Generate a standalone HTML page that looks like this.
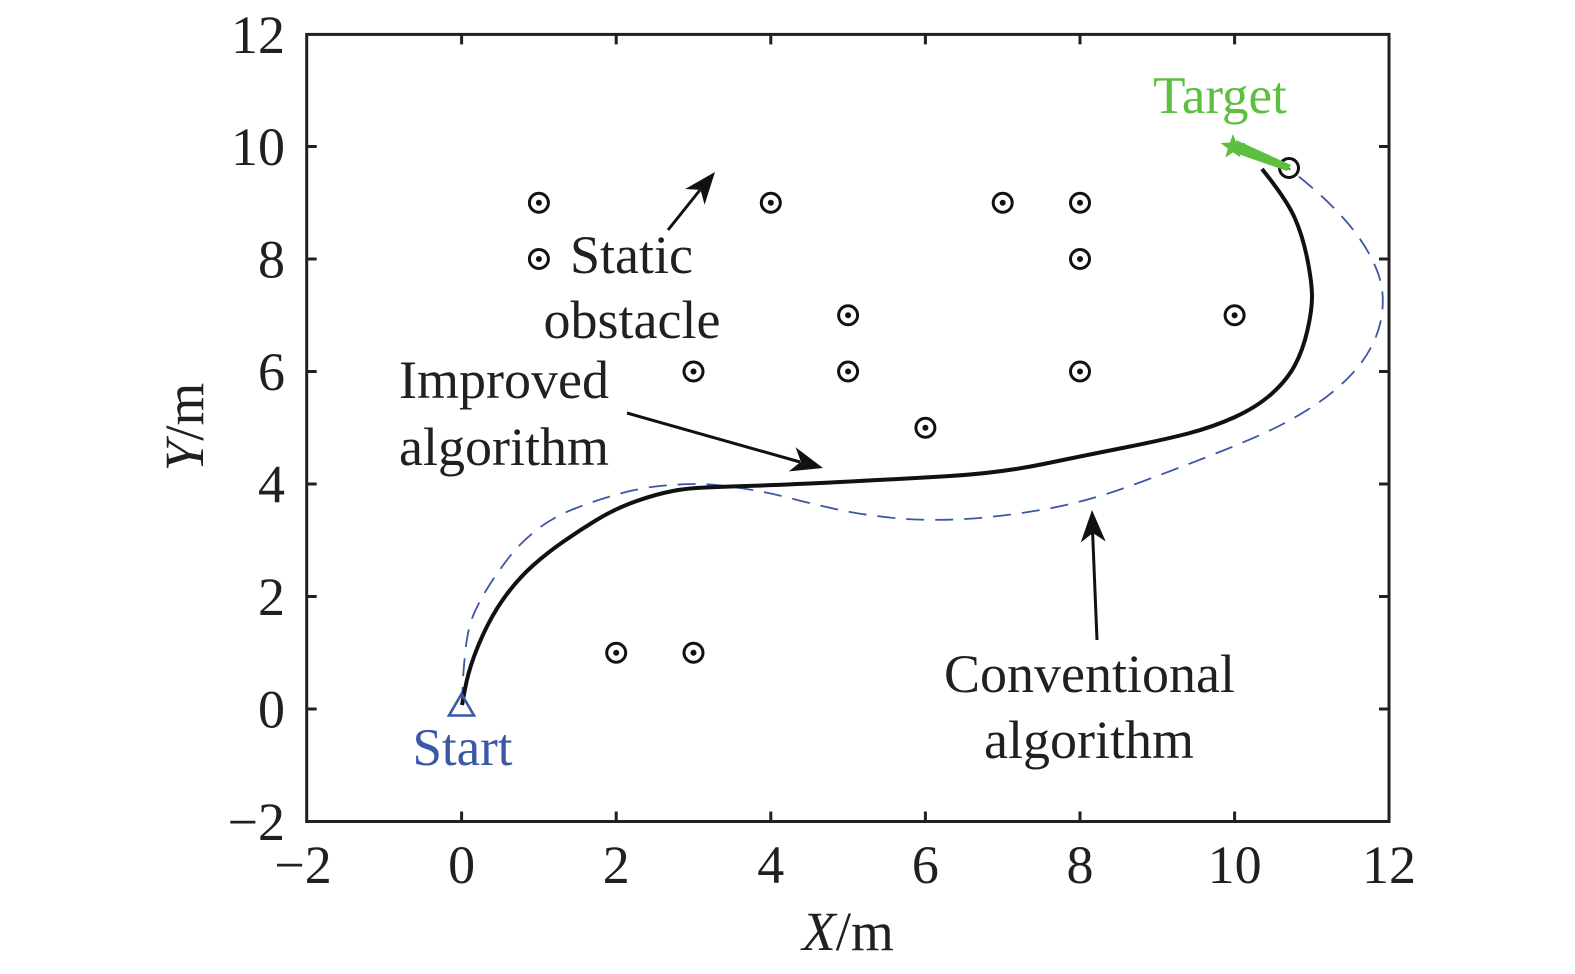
<!DOCTYPE html>
<html>
<head>
<meta charset="utf-8">
<style>
  html, body { margin: 0; padding: 0; background: #ffffff; }
  svg { display: block; }
  text { font-family: "Liberation Serif", "Times New Roman", serif; fill: #231f20; }
</style>
</head>
<body>
<svg width="1575" height="974" viewBox="0 0 1575 974" xmlns="http://www.w3.org/2000/svg">
  <rect x="0" y="0" width="1575" height="974" fill="#ffffff"/>

  <!-- Axes box -->
  <rect x="306.7" y="34.4" width="1082.3" height="787.1" fill="none" stroke="#231f20" stroke-width="3"/>

  <!-- Ticks -->
  <g stroke="#231f20" stroke-width="3">
    <!-- x ticks bottom & top: x = 461.6 + 77.3*v -->
    <line x1="461.6" y1="821.5" x2="461.6" y2="811.5"/><line x1="461.6" y1="34.4" x2="461.6" y2="44.4"/>
    <line x1="616.2" y1="821.5" x2="616.2" y2="811.5"/><line x1="616.2" y1="34.4" x2="616.2" y2="44.4"/>
    <line x1="770.8" y1="821.5" x2="770.8" y2="811.5"/><line x1="770.8" y1="34.4" x2="770.8" y2="44.4"/>
    <line x1="925.4" y1="821.5" x2="925.4" y2="811.5"/><line x1="925.4" y1="34.4" x2="925.4" y2="44.4"/>
    <line x1="1080" y1="821.5" x2="1080" y2="811.5"/><line x1="1080" y1="34.4" x2="1080" y2="44.4"/>
    <line x1="1234.6" y1="821.5" x2="1234.6" y2="811.5"/><line x1="1234.6" y1="34.4" x2="1234.6" y2="44.4"/>
    <!-- y ticks left & right: y = 709 - 56.25*v -->
    <line x1="306.7" y1="146.5" x2="316.7" y2="146.5"/><line x1="1389" y1="146.5" x2="1379" y2="146.5"/>
    <line x1="306.7" y1="259" x2="316.7" y2="259"/><line x1="1389" y1="259" x2="1379" y2="259"/>
    <line x1="306.7" y1="371.5" x2="316.7" y2="371.5"/><line x1="1389" y1="371.5" x2="1379" y2="371.5"/>
    <line x1="306.7" y1="484" x2="316.7" y2="484"/><line x1="1389" y1="484" x2="1379" y2="484"/>
    <line x1="306.7" y1="596.5" x2="316.7" y2="596.5"/><line x1="1389" y1="596.5" x2="1379" y2="596.5"/>
    <line x1="306.7" y1="709" x2="316.7" y2="709"/><line x1="1389" y1="709" x2="1379" y2="709"/>
  </g>

  <!-- Y tick labels -->
  <g font-size="54" text-anchor="end">
    <text x="285" y="53">12</text>
    <text x="285" y="165">10</text>
    <text x="285" y="277.5">8</text>
    <text x="285" y="390">6</text>
    <text x="285" y="502.5">4</text>
    <text x="285" y="615">2</text>
    <text x="285" y="727.5">0</text>
    <text x="285" y="840">−2</text>
  </g>

  <!-- X tick labels -->
  <g font-size="54" text-anchor="middle">
    <text x="303" y="883">−2</text>
    <text x="461.6" y="883">0</text>
    <text x="616.2" y="883">2</text>
    <text x="770.8" y="883">4</text>
    <text x="925.4" y="883">6</text>
    <text x="1080" y="883">8</text>
    <text x="1234.6" y="883">10</text>
    <text x="1389" y="883">12</text>
  </g>

  <!-- Axis labels -->
  <text x="848" y="950" font-size="55" text-anchor="middle"><tspan font-style="italic">X</tspan>/m</text>
  <text transform="translate(203,427) rotate(-90)" font-size="55" text-anchor="middle"><tspan font-style="italic">Y</tspan>/m</text>

  <!-- Conventional algorithm (dashed) -->
  <path d="M462,705 L462.5,689 Q463,673 465.5,650 Q468,627 474,613.5 Q480,600 488.5,586.5 Q497,573 508.5,558 Q520,543 536.5,530 Q553,517 575,508.5 Q597,500 618.5,494 Q640,488 660,486 Q680,484 696.5,484 Q713,484 740,488 Q767,492 793.5,499 Q820,506 845,511 Q870,516 900,518.5 Q930,521 965,519 Q1000,517 1043.5,509.5 Q1087,502 1137,483.5 Q1187,465 1222,451 Q1257,437 1277,427 Q1297,417 1315,405 Q1333,393 1348,378 Q1363,363 1371.5,346.5 Q1380,330 1382,313.5 Q1384,297 1381,283.5 Q1378,270 1369,253.5 Q1360,237 1345,220 Q1330,203 1312.5,188 Q1295,173 1288,168"
        fill="none" stroke="#3c58a4" stroke-width="1.8" stroke-dasharray="18 11"/>

  <!-- Improved algorithm (solid black) -->
  <path d="M462,705 L465,689 Q468,673 474,656.5 Q480,640 488.5,623.5 Q497,607 508.5,592 Q520,577 533.5,565 Q547,553 563.5,541.5 Q580,530 596.5,520 Q613,510 630,503.5 Q647,497 663.5,493 Q680,489 696.5,488 Q713,487 746.5,486 Q780,485 840,482 Q900,479 950,476 Q1000,473 1043.5,464 Q1087,455 1125,447.5 Q1163,440 1188,433.5 Q1213,427 1235,417 Q1257,407 1272,393.5 Q1287,380 1295,365 Q1303,350 1307.5,330 Q1312,310 1312,296.5 Q1312,283 1307.5,260 Q1303,237 1295,218.5 Q1287,200 1262,169"
        fill="none" stroke="#111111" stroke-width="4" stroke-linecap="butt" stroke-linejoin="round"/>

  <!-- Obstacles -->
  <g fill="none" stroke="#111111" stroke-width="3">
    <circle cx="538.9" cy="202.75" r="9.5"/>
    <circle cx="770.8" cy="202.75" r="9.5"/>
    <circle cx="1002.7" cy="202.75" r="9.5"/>
    <circle cx="1080" cy="202.75" r="9.5"/>
    <circle cx="538.9" cy="259" r="9.5"/>
    <circle cx="1080" cy="259" r="9.5"/>
    <circle cx="848.1" cy="315.25" r="9.5"/>
    <circle cx="1234.6" cy="315.25" r="9.5"/>
    <circle cx="693.5" cy="371.5" r="9.5"/>
    <circle cx="848.1" cy="371.5" r="9.5"/>
    <circle cx="1080" cy="371.5" r="9.5"/>
    <circle cx="925.4" cy="427.75" r="9.5"/>
    <circle cx="616.2" cy="652.75" r="9.5"/>
    <circle cx="693.5" cy="652.75" r="9.5"/>
    <circle cx="1289" cy="168" r="9.5"/>
  </g>
  <g fill="#111111">
    <circle cx="538.9" cy="202.75" r="3"/>
    <circle cx="770.8" cy="202.75" r="3"/>
    <circle cx="1002.7" cy="202.75" r="3"/>
    <circle cx="1080" cy="202.75" r="3"/>
    <circle cx="538.9" cy="259" r="3"/>
    <circle cx="1080" cy="259" r="3"/>
    <circle cx="848.1" cy="315.25" r="3"/>
    <circle cx="1234.6" cy="315.25" r="3"/>
    <circle cx="693.5" cy="371.5" r="3"/>
    <circle cx="848.1" cy="371.5" r="3"/>
    <circle cx="1080" cy="371.5" r="3"/>
    <circle cx="925.4" cy="427.75" r="3"/>
    <circle cx="616.2" cy="652.75" r="3"/>
    <circle cx="693.5" cy="652.75" r="3"/>
  </g>

  <!-- Target star and wedge -->
  <g fill="#5cbf3f">
    <polygon points="1236,140 1291,165 1287,171 1238,154"/>
    <polygon points="1233,134 1236.2,142.6 1245.4,143 1238.2,148.6 1240.6,157.5 1233,152.4 1225.4,157.5 1227.8,148.6 1220.6,143 1229.8,142.6"/>
  </g>

  <!-- Start triangle -->
  <polygon points="461.5,694 449,715.5 474,715.5" fill="none" stroke="#3c58a4" stroke-width="2.6" stroke-linejoin="miter"/>

  <!-- Arrows -->
  <g stroke="#111111" stroke-width="3" fill="none">
    <line x1="668" y1="230" x2="700" y2="190"/>
    <line x1="627" y1="413" x2="800" y2="462"/>
    <line x1="1097" y1="640" x2="1092.5" y2="530"/>
  </g>
  <g fill="#111111">
    <polygon transform="translate(715,172) rotate(-51)" points="0,0 -32,-12.5 -23,0 -32,12.5"/>
    <polygon transform="translate(823,468) rotate(15.7)" points="0,0 -32,-12.5 -23,0 -32,12.5"/>
    <polygon transform="translate(1092,510) rotate(-92.2)" points="0,0 -32,-12.5 -23,0 -32,12.5"/>
  </g>

  <!-- Annotation text -->
  <g font-size="54" text-anchor="middle">
    <text x="631.5" y="273">Static</text>
    <text x="632" y="338">obstacle</text>
    <text x="504" y="398">Improved</text>
    <text x="504" y="465">algorithm</text>
    <text x="1089.5" y="692">Conventional</text>
    <text x="1089" y="758">algorithm</text>
  </g>
  <text x="1220" y="113" font-size="53" text-anchor="middle" style="fill:#5cbf3f">Target</text>
  <text x="462.5" y="765" font-size="53" text-anchor="middle" style="fill:#3c58a4">Start</text>
</svg>
</body>
</html>
